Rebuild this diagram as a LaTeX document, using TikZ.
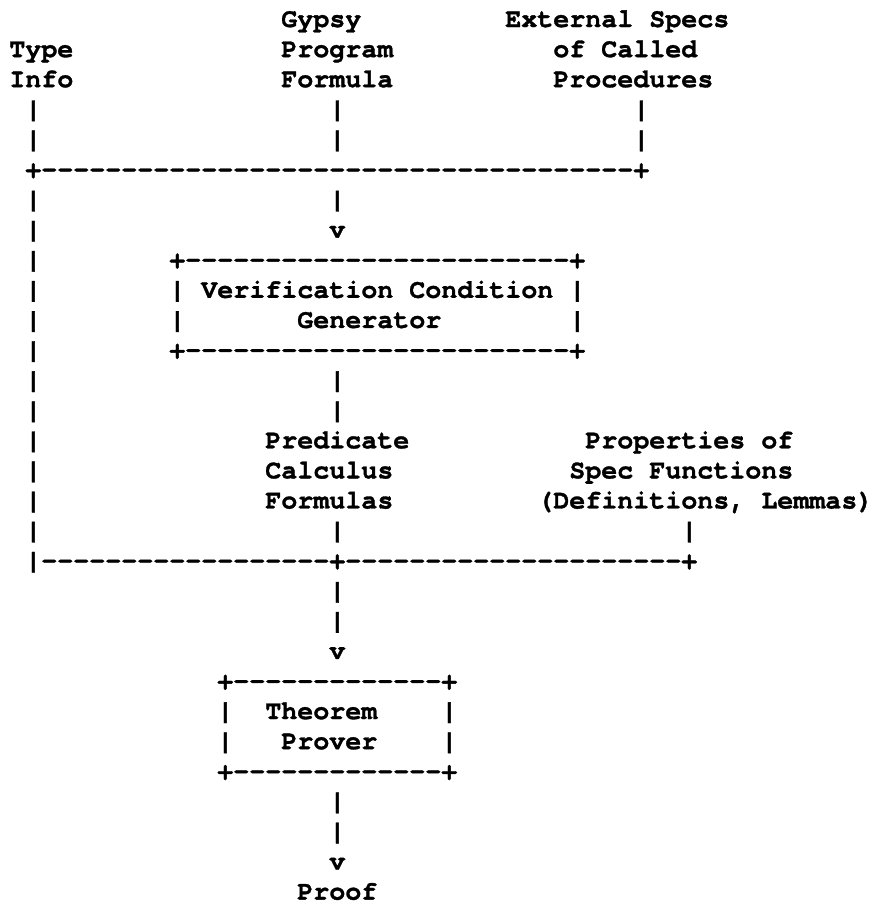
\documentclass[tikz,border=0pt]{standalone}
\usepackage{fontspec}
\setmonofont{TeX Gyre Cursor}[BoldFeatures={FakeBold=1.2}]

% every character sits in its own cell of the text grid
\newcommand\chw{16pt}
\def\gridchars#1{\gridstep#1\relax}
\def\gridstep#1{\ifx#1\relax\else\makebox[\chw][l]{#1}\expandafter\gridstep\fi}

% a run of separate hyphens
\newcount\dashcount
\newcommand\dashrun[1]{\dashcount=#1\relax
  \loop\ifnum\dashcount>0 \makebox[\chw][l]{-}\advance\dashcount by -1\relax\repeat}

% \cell{name}{column}{row}{word}: one word placed on the text grid
\newcommand\cell[4]{\node[ascii] (#1) at ({9.3+16*#2},{-27-30.09*#3}) {\gridchars{#4}};}
% \run{name}{column}{row}{material}: ready-made run (frames, dashes)
\newcommand\run[4]{\node[ascii] (#1) at ({9.3+16*#2},{-27-30.09*#3}) {#4};}

\begin{document}
\begin{tikzpicture}[x=1pt,y=1pt,
  ascii/.style={anchor=base west, inner sep=0pt, outer sep=0pt,
    font=\ttfamily\bfseries\fontsize{26.67}{30}\selectfont}]
\fill[white] (0,0) rectangle (872,-905);
\useasboundingbox (0,0) rectangle (872,-905);

% inputs
\cell{gypsy}{17}{0}{Gypsy}
\cell{external}{31}{0}{External}
\cell{specs}{40}{0}{Specs}
\cell{type}{0}{1}{Type}
\cell{program}{17}{1}{Program}
\cell{of1}{34}{1}{of}
\cell{called}{37}{1}{Called}
\cell{info}{0}{2}{Info}
\cell{formula}{17}{2}{Formula}
\cell{procedures}{34}{2}{Procedures}

\cell{p3a}{1}{3}{|}  \cell{p3b}{20}{3}{|}  \cell{p3c}{39}{3}{|}
\cell{p4a}{1}{4}{|}  \cell{p4b}{20}{4}{|}  \cell{p4c}{39}{4}{|}
\run{join1}{1}{5}{\gridchars{+}\dashrun{37}\gridchars{+}}
\cell{p6a}{1}{6}{|}  \cell{p6b}{20}{6}{|}
\cell{p7a}{1}{7}{|}  \cell{v7}{20}{7}{v}

% verification condition generator
\cell{p8a}{1}{8}{|}
\run{vcgtop}{10}{8}{\gridchars{+}\dashrun{24}\gridchars{+}}
\cell{p9a}{1}{9}{|}  \cell{vcgl1}{10}{9}{|}
\cell{verification}{12}{9}{Verification}
\cell{condition}{25}{9}{Condition}
\cell{vcgr1}{35}{9}{|}
\cell{p10a}{1}{10}{|}  \cell{vcgl2}{10}{10}{|}
\cell{generator}{18}{10}{Generator}
\cell{vcgr2}{35}{10}{|}
\cell{p11a}{1}{11}{|}
\run{vcgbot}{10}{11}{\gridchars{+}\dashrun{24}\gridchars{+}}

\cell{p12a}{1}{12}{|}  \cell{p12b}{20}{12}{|}
\cell{p13a}{1}{13}{|}  \cell{p13b}{20}{13}{|}

% intermediate inputs
\cell{p14a}{1}{14}{|}  \cell{predicate}{16}{14}{Predicate}
\cell{properties}{36}{14}{Properties}
\cell{of2}{47}{14}{of}
\cell{p15a}{1}{15}{|}  \cell{calculus}{16}{15}{Calculus}
\cell{spec}{35}{15}{Spec}
\cell{functions}{40}{15}{Functions}
\cell{p16a}{1}{16}{|}  \cell{formulas}{16}{16}{Formulas}
\cell{definitions}{33}{16}{(Definitions,}
\cell{lemmas}{47}{16}{Lemmas)}
\cell{p17a}{1}{17}{|}  \cell{p17b}{20}{17}{|}  \cell{p17c}{42}{17}{|}
\run{join2}{1}{18}{\gridchars{|}\dashrun{18}\gridchars{+}\dashrun{21}\gridchars{+}}
\cell{p19}{20}{19}{|}
\cell{p20}{20}{20}{|}
\cell{v21}{20}{21}{v}

% theorem prover
\run{tptop}{13}{22}{\gridchars{+}\dashrun{13}\gridchars{+}}
\cell{tpl1}{13}{23}{|}  \cell{theorem}{16}{23}{Theorem}  \cell{tpr1}{27}{23}{|}
\cell{tpl2}{13}{24}{|}  \cell{prover}{17}{24}{Prover}  \cell{tpr2}{27}{24}{|}
\run{tpbot}{13}{25}{\gridchars{+}\dashrun{13}\gridchars{+}}

% output
\cell{p26}{20}{26}{|}
\cell{p27}{20}{27}{|}
\cell{v28}{20}{28}{v}
\cell{proof}{18}{29}{Proof}
\end{tikzpicture}
\end{document}
